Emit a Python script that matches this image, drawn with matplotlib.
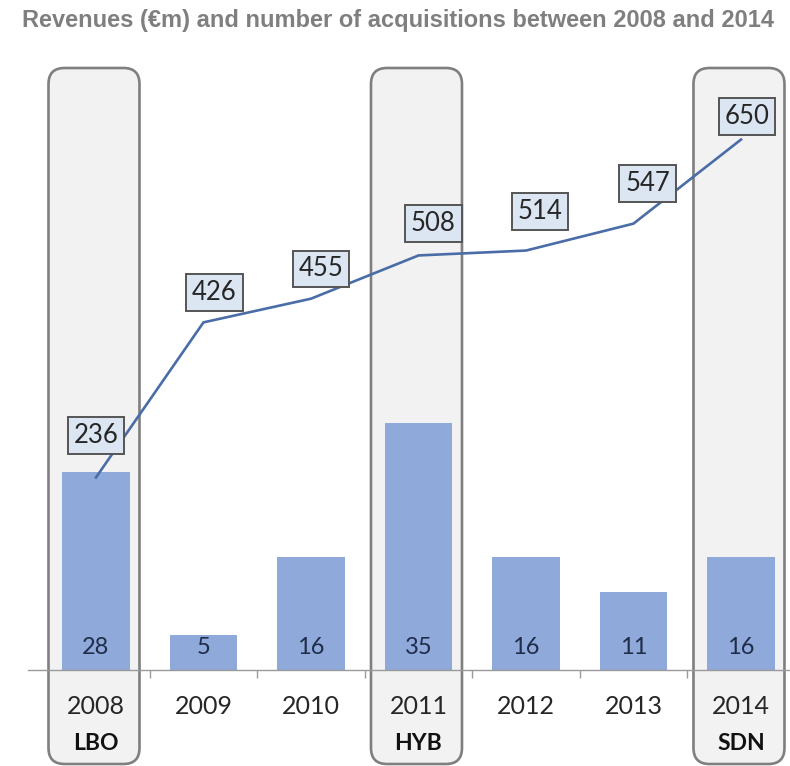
import matplotlib
matplotlib.use("Agg")
import matplotlib.pyplot as plt
from matplotlib.patches import FancyBboxPatch
from matplotlib.transforms import IdentityTransform

# ---- data ----
years = ["2008", "2009", "2010", "2011", "2012", "2013", "2014"]
deals = ["LBO", "", "", "HYB", "", "", "SDN"]
acquisitions = [28, 5, 16, 35, 16, 11, 16]
revenues = [236, 426, 455, 508, 514, 547, 650]
title = "Revenues (\u20acm) and number of acquisitions between 2008 and 2014"

# ---- style ----
W, H, DPI = 790, 766, 100
bar_color = "#8EA9DA"
line_color = "#4A6DA8"
num_font = "Lato"
label_offsets_px = [(0, 42), (11, 30), (10, 30), (15, 32), (14, 39), (14, 40), (6, 23)]

fig = plt.figure(figsize=(W / DPI, H / DPI), dpi=DPI)
fig.patch.set_facecolor("white")

ax_bottom = (H - 670) / H
ax_height = 610 / H
ax = fig.add_axes([0, ax_bottom, 1, ax_height])
ax.set_zorder(2)
ax.patch.set_alpha(0)
ax2 = ax.twinx()
ax2.set_zorder(3)
ax2.patch.set_alpha(0)

x = list(range(len(years)))
ax.bar(x, acquisitions, width=0.63, color=bar_color, zorder=2)
ax.set_xlim(-0.893, 6.456)
ax.set_ylim(0, 86.3)
ax2.set_ylim(0, 747.5)

ax2.plot(x, revenues, color=line_color, lw=1.9, solid_joinstyle="miter")

for spine in ["top", "right", "left"]:
    ax.spines[spine].set_visible(False)
    ax2.spines[spine].set_visible(False)
ax2.spines["bottom"].set_visible(False)
ax.spines["bottom"].set_color("#9A9A9A")
ax.spines["bottom"].set_linewidth(1.0)
ax.spines["bottom"].set_bounds(-0.63, 6.456)
ax.set_yticks([])
ax2.set_yticks([])
ax.set_xticks([i + 0.5 for i in x[:-1]])
ax.set_xticklabels([])
ax.tick_params(axis="x", length=6, color="#9A9A9A", width=1.0, direction="out")

# count labels inside bars
for xi, v in zip(x, acquisitions):
    ax.annotate(str(v), (xi, 0), xytext=(0, 22 * 0.72), textcoords="offset points",
                ha="center", va="center", fontsize=17, color="#1F2D4A",
                family=num_font, zorder=4)

# revenue labels
for xi, v, (dx, dy) in zip(x, revenues, label_offsets_px):
    ax2.annotate(str(v), (xi, v), xytext=(dx * 0.72, dy * 0.72), textcoords="offset points",
                 ha="center", va="center", fontsize=18.5, color="#262626", family=num_font,
                 bbox=dict(boxstyle="square,pad=0.22", fc="#DCE6F2", ec="#555555", lw=1.4),
                 zorder=5)

# year and deal labels
xt = ax.get_xaxis_transform()
for xi, yr, d in zip(x, years, deals):
    ax.text(xi, -36 / 610, yr, transform=xt, ha="center", va="center",
            fontsize=18, color="#262626", family=num_font)
    if d:
        ax.text(xi, -73 / 610, d, transform=xt, ha="center", va="center",
                fontsize=16.5, color="#111111", family=num_font, fontweight="bold")

# highlight rounded boxes (pixel space)
fig.canvas.draw()
for xi, d in zip(x, deals):
    if not d:
        continue
    cx = ax.transData.transform((xi, 0))[0] - 2
    bw = 91
    top_px, bot_px = 68, 764
    patch = FancyBboxPatch((cx - bw / 2, H - bot_px), bw, bot_px - top_px,
                           boxstyle="round,pad=0,rounding_size=16",
                           transform=IdentityTransform(), fc="#F2F2F2", ec="#7F7F7F",
                           lw=1.9, zorder=1)
    fig.add_artist(patch)

fig.text(22 / W, 1 - 21 / H, title, ha="left", va="center", fontsize=17,
         color="#7F7F7F", family="Liberation Sans", fontweight="bold")

fig.savefig("out.png", dpi=DPI, facecolor="white")
